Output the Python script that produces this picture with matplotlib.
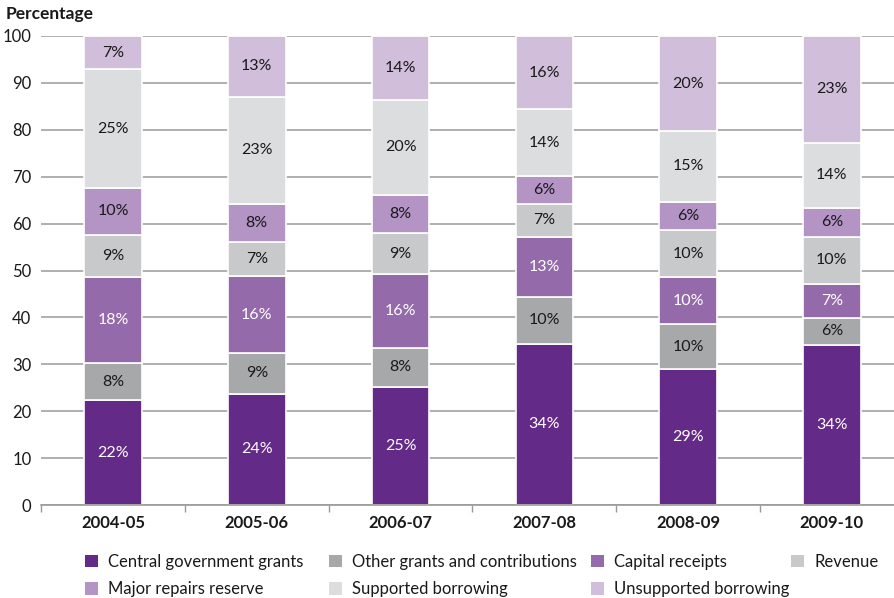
import numpy as np
import matplotlib
matplotlib.use("Agg")
import matplotlib.pyplot as plt
from matplotlib.patches import Patch

plt.rcParams['font.family'] = ['Lato', 'DejaVu Sans']

years = ['2004-05', '2005-06', '2006-07', '2007-08', '2008-09', '2009-10']
series = ['Central government grants', 'Other grants and contributions',
          'Capital receipts', 'Revenue', 'Major repairs reserve',
          'Supported borrowing', 'Unsupported borrowing']

central = [22.3, 23.7, 25.2, 34.4, 28.9, 34.1]
other_grants = [7.9, 8.7, 8.3, 9.9, 9.7, 5.8]
capital = [18.4, 16.4, 15.7, 12.9, 10.0, 7.3]
revenue = [9.0, 7.3, 8.7, 7.0, 10.0, 9.9]
major_repairs = [10.0, 8.1, 8.2, 5.9, 6.1, 6.3]
supported = [25.3, 22.8, 20.3, 14.3, 15.0, 13.8]
unsupported = [7.1, 13.0, 13.6, 15.6, 20.3, 22.8]

colors = ['#642a87', '#a7a8aa', '#946aaa', '#c8c9cb', '#b394c4', '#dcdddf', '#d1bedb']
text_colors = ['white', '#1a1a1a', 'white', '#1a1a1a', '#1a1a1a', '#1a1a1a', '#1a1a1a']

data = [central, other_grants, capital, revenue, major_repairs, supported, unsupported]

fig = plt.figure(figsize=(8.94, 5.98), dpi=100)
ax = fig.add_axes([0.046, 0.1555, 0.96, 0.7843])

x = np.arange(len(years))
bottom = np.zeros(len(years))
handles = []
for vals, col, tcol, name in zip(data, colors, text_colors, series):
    vals = np.array(vals)
    ax.bar(x, vals, 0.4, bottom=bottom, color=col, edgecolor='white',
           linewidth=1.2, zorder=3)
    for xi, v, b in zip(x, vals, bottom):
        ax.text(xi, b + v / 2, f"{int(round(v))}%", ha='center', va='center',
                color=tcol, fontsize=11.5, zorder=4)
    bottom += vals
    handles.append(Patch(facecolor=col, edgecolor='none', label=name))

ax.set_xlim(-0.5, 5.47)
ax.set_ylim(0, 100)
ax.set_yticks(range(0, 101, 10))
ax.yaxis.grid(True, color='#a9a9a9', linewidth=1.3, zorder=0)
ax.tick_params(axis='y', length=0, labelsize=12, colors='#1a1a1a', pad=7)
ax.set_xticks(x)
ax.set_xticklabels(years, fontweight='bold', fontsize=12)
ax.tick_params(axis='x', length=0, pad=7, colors='#1a1a1a')
ax.set_xticks(np.arange(-0.5, 5.5, 1), minor=True)
ax.tick_params(axis='x', which='minor', length=5, color='#999999', width=1)
for s in ['top', 'right', 'left']:
    ax.spines[s].set_visible(False)
ax.spines['bottom'].set_color('#999999')
ax.spines['bottom'].set_linewidth(1.2)
ax.spines['bottom'].set_zorder(5)

fig.text(0.006, 0.976, 'Percentage', fontweight='bold', fontsize=12.5,
         ha='left', va='center', color='#1a1a1a')

# legend, one column at a time to match the layout
col_groups = [[0, 4], [1, 5], [2, 6], [3]]
col_x = [78, 322, 584, 784]
for grp, cx in zip(col_groups, col_x):
    fig.legend(handles=[handles[i] for i in grp], loc='upper left',
               bbox_to_anchor=(cx / 894, 1 - 547 / 598), frameon=False,
               fontsize=12, handlelength=0.8, handleheight=0.8,
               handletextpad=0.6, labelspacing=0.7, borderaxespad=0,
               labelcolor='#1a1a1a')

fig.savefig('out.png', dpi=100)
